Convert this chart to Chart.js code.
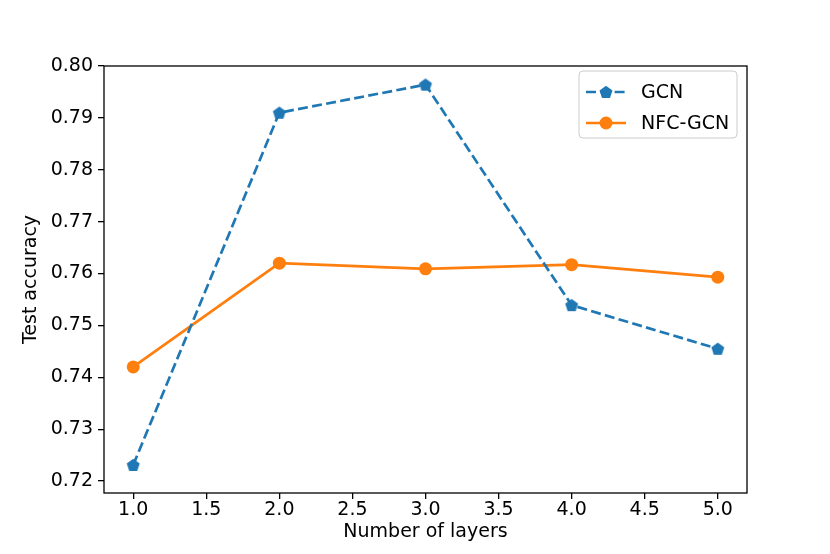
<!DOCTYPE html>
<html>
<head>
<meta charset="utf-8">
<script src="https://cdn.jsdelivr.net/npm/chart.js@4"></script>
<style>
	html, body { margin: 0; padding: 0; background: #fff; }
	#wrap { width: 830px; height: 554px; }
</style>
</head>
<body>
<div id="wrap"><canvas id="lineChart" width="830" height="554"></canvas></div>
<script>
const layers = [1, 2, 3, 4, 5];
const gcnAcc = [0.7231, 0.7910, 0.7964, 0.7539, 0.7455];
const nfcGcnAcc = [0.7420, 0.7620, 0.7609, 0.7617, 0.7593];
const xTicks = [1.0, 1.5, 2.0, 2.5, 3.0, 3.5, 4.0, 4.5, 5.0];
const yTicks = [0.72, 0.73, 0.74, 0.75, 0.76, 0.77, 0.78, 0.79, 0.80];

const blue = "#1f77b4";
const orange = "#ff7f0e";
const font = "DejaVu Sans";
const fsize = 19;

// pentagon marker as an image
const pentagon = (r, color) => {
	const c = document.createElement("canvas");
	const s = Math.ceil(r * 2 + 2);
	c.width = s;
	c.height = s;
	const g = c.getContext("2d");
	g.beginPath();
	for (let i = 0; i < 5; i++) {
		const a = -Math.PI / 2 + i * 2 * Math.PI / 5;
		const px = s / 2 + r * Math.cos(a);
		const py = s / 2 + r * Math.sin(a) + 0.5;
		if (i === 0) g.moveTo(px, py); else g.lineTo(px, py);
	}
	g.closePath();
	g.fillStyle = color;
	g.fill();
	return c;
};
const pentImg = pentagon(6.8, blue);

const boxPlugin = {
	id: "box",
	afterDraw(chart) {
		const { ctx, chartArea: a } = chart;
		ctx.save();
		ctx.strokeStyle = "#000";
		ctx.lineWidth = 1.3;
		ctx.strokeRect(a.left, a.top, a.right - a.left, a.bottom - a.top);

		// legend
		const lx = a.right - 168, ly = a.top + 5, lw = 158, lh = 67;
		ctx.beginPath();
		ctx.roundRect(lx, ly, lw, lh, 4);
		ctx.fillStyle = "rgba(255,255,255,0.8)";
		ctx.fill();
		ctx.strokeStyle = "#cccccc";
		ctx.lineWidth = 1;
		ctx.stroke();

		const items = [
			{ label: "GCN", color: blue, dash: [10, 4.3], y: ly + 21 },
			{ label: "NFC-GCN", color: orange, dash: [], y: ly + 52 },
		];
		items.forEach((it) => {
			ctx.beginPath();
			ctx.setLineDash(it.dash);
			ctx.strokeStyle = it.color;
			ctx.lineWidth = 2.7;
			ctx.moveTo(lx + 7, it.y);
			ctx.lineTo(lx + 47, it.y);
			ctx.stroke();
			ctx.setLineDash([]);
			if (it.dash.length) {
				ctx.drawImage(pentImg, lx + 27 - pentImg.width / 2, it.y - pentImg.height / 2);
			} else {
				ctx.beginPath();
				ctx.arc(lx + 27, it.y, 6.5, 0, Math.PI * 2);
				ctx.fillStyle = it.color;
				ctx.fill();
			}
			ctx.fillStyle = "#000";
			ctx.font = fsize + "px '" + font + "'";
			ctx.textBaseline = "middle";
			ctx.fillText(it.label, lx + 62, it.y + 1);
		});
		ctx.restore();
	},
};

const ctx = document.getElementById("lineChart");
const chartData = {
	datasets: [
		{
			label: "GCN",
			data: layers.map((x, i) => ({ x: x, y: gcnAcc[i] })),
			borderColor: blue,
			backgroundColor: blue,
			borderWidth: 2.7,
			borderDash: [10, 4.3],
			pointStyle: pentImg,
			pointRadius: 6.5,
			tension: 0,
		},
		{
			label: "NFC-GCN",
			data: layers.map((x, i) => ({ x: x, y: nfcGcnAcc[i] })),
			borderColor: orange,
			backgroundColor: orange,
			pointBackgroundColor: orange,
			pointBorderWidth: 0,
			borderWidth: 2.7,
			pointRadius: 6.5,
			tension: 0,
		},
	],
};
const tickOpts = { color: "#000", font: { family: font, size: fsize } };
const config = {
	type: "line",
	data: chartData,
	plugins: [boxPlugin],
	options: {
		responsive: false,
		animation: false,
		layout: { padding: { left: 0, top: 66, right: 83, bottom: 0 } },
		plugins: { legend: { display: false }, tooltip: { enabled: false } },
		scales: {
			x: {
				type: "linear",
				min: 0.8,
				max: 5.2,
				afterBuildTicks: (s) => { s.ticks = xTicks.map((v) => ({ value: v })); },
				afterFit: (s) => { s.height = 61; },
				ticks: { ...tickOpts, padding: 0, maxRotation: 0, callback: (v) => v.toFixed(1) },
				grid: { drawOnChartArea: false, drawTicks: true, tickLength: 6, color: "#000", lineWidth: 1.3 },
				border: { display: false },
				title: { display: true, text: "Number of layers", color: "#000", font: { family: font, size: fsize }, padding: { top: 0, bottom: 11 } },
			},
			y: {
				type: "linear",
				min: 0.7177,
				max: 0.80,
				afterBuildTicks: (s) => { s.ticks = yTicks.map((v) => ({ value: v })); },
				afterFit: (s) => { s.width = 104; },
				ticks: { ...tickOpts, padding: 5, callback: (v) => v.toFixed(2) },
				grid: { drawOnChartArea: false, drawTicks: true, tickLength: 6, color: "#000", lineWidth: 1.3 },
				border: { display: false },
				title: { display: true, text: "Test accuracy", color: "#000", font: { family: font, size: fsize }, padding: { top: 20, bottom: 0 } },
			},
		},
	},
};
const lineChart = new Chart(ctx, config);
</script>
</body>
</html>
